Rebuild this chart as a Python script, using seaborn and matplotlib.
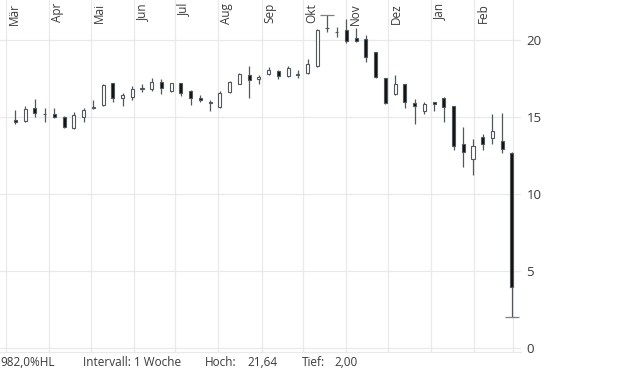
import numpy as np
import pandas as pd
import seaborn as sns
import matplotlib.pyplot as plt
import matplotlib.dates as mdates
import matplotlib.transforms as mtransforms

# weekly candles, Mar 2021 - Feb 2022
dates = pd.date_range("2021-03-08", periods=52, freq="7D")
opens = [14.80, 14.77, 15.58, 15.22, 15.19, 14.98, 14.27, 15.02, 15.60, 15.75,
         17.19, 16.25, 16.32, 16.85, 16.82, 17.27, 16.71, 17.19, 16.67, 16.25,
         15.95, 15.67, 16.64, 17.16, 17.73, 17.50, 17.77, 17.99, 17.66, 17.75,
         17.88, 18.33, 20.80, 20.55, 20.65, 20.10, 20.04, 19.22, 17.53, 16.51,
         17.12, 15.91, 15.41, 15.97, 16.21, 15.69, 13.25, 12.29, 13.68, 13.66,
         13.44, 12.68]
highs = [15.47, 15.71, 16.17, 15.56, 15.58, 15.05, 15.30, 15.58, 16.10, 17.14,
         17.21, 16.56, 17.01, 17.14, 17.53, 17.47, 17.23, 17.21, 16.73, 16.45,
         16.08, 16.67, 17.34, 17.86, 18.31, 17.73, 18.25, 18.05, 18.31, 18.05,
         18.77, 20.71, 21.64, 20.86, 21.36, 20.80, 20.32, 19.24, 17.55, 17.73,
         17.16, 16.17, 15.97, 15.99, 16.28, 15.71, 14.35, 13.57, 13.90, 15.19,
         15.26, 12.70]
lows = [14.53, 14.69, 15.00, 14.69, 14.95, 14.27, 14.22, 14.69, 15.50, 15.72,
        15.95, 15.73, 16.12, 16.64, 16.71, 16.51, 16.64, 16.38, 15.80, 15.97,
        15.37, 15.56, 16.58, 17.12, 16.25, 17.12, 17.75, 17.45, 17.58, 17.51,
        17.79, 18.27, 20.55, 20.21, 19.79, 19.89, 18.59, 17.55, 15.86, 16.43,
        15.56, 14.56, 15.21, 15.41, 14.69, 12.86, 11.77, 11.23, 12.86, 13.25,
        12.68, 2.00]
closes = [14.70, 15.54, 15.28, 15.20, 15.02, 14.33, 15.11, 15.45, 15.63, 17.10,
          16.21, 16.45, 16.82, 16.88, 17.29, 16.90, 17.19, 16.58, 16.25, 16.08,
          15.90, 16.58, 17.25, 17.81, 17.38, 17.60, 18.03, 17.66, 18.16, 17.80,
          18.42, 20.65, 20.76, 20.53, 19.94, 19.96, 18.88, 17.60, 15.90, 17.12,
          15.99, 15.69, 15.82, 15.86, 15.63, 13.14, 12.75, 13.12, 13.25, 14.09,
          12.90, 3.94]

month_starts = pd.date_range("2021-03-01", periods=13, freq="MS")
month_labels = ["Mär", "Apr", "Mai", "Jun", "Jul", "Aug", "Sep", "Okt", "Nov",
                "Dez", "Jan", "Feb"]
y_ticks = [0, 5, 10, 15, 20]
perf_text = "982,0%HL"
interval_text = "Intervall: 1 Woche"

df = pd.DataFrame({"date": dates, "open": opens, "high": highs,
                   "low": lows, "close": closes})
df["x"] = mdates.date2num(df["date"])
df["up"] = df["close"] >= df["open"]
df["bottom"] = df[["open", "close"]].min(axis=1)
df["height"] = (df["close"] - df["open"]).abs()

sns.set_theme(style="white")
plt.rcParams["font.family"] = ["Open Sans", "DejaVu Sans"]

W, H = 620, 372
fig = plt.figure(figsize=(W / 100, H / 100), dpi=100)
ax = fig.add_axes([0, 20 / H, 521 / W, 352 / H])

grid_c = "#e9e9e9"
edge_c = "#50585d"
text_c = "#3a3a3a"

# grid
for d in month_starts:
    ax.axvline(mdates.date2num(d), color=grid_c, lw=0.9, zorder=0)
for v in y_ticks:
    ax.axhline(v, color=grid_c, lw=0.9, zorder=0)

# wicks
ax.vlines(df["x"], df["low"], df["high"], color=edge_c, lw=0.9, zorder=2)
# bodies
ax.bar(df["x"], df["height"], bottom=df["bottom"], width=2.2,
       color=np.where(df["up"], "white", "#111111"), edgecolor=edge_c,
       linewidth=0.8, zorder=3)

# high / low markers
hi = df.loc[df["high"].idxmax()]
lo = df.loc[df["low"].idxmin()]
sns.scatterplot(x=[hi["x"], lo["x"]], y=[hi["high"], lo["low"]], marker="_",
                s=110, color="#7a8186", linewidth=0.9, ax=ax, zorder=4,
                legend=False)

x0 = mdates.date2num(pd.Timestamp("2021-03-01"))
ax.set_xlim(x0 - 4.1, x0 + 370.5)
ax.set_ylim(-0.26, 22.6)

ax.set_yticks(y_ticks)
ax.yaxis.tick_right()
ax.tick_params(axis="y", length=0, pad=4, labelsize=9.5, labelcolor=text_c)
ax.set_xticks([])
ax.set_xlabel("")
ax.set_ylabel("")
for s in ["top", "left", "right"]:
    ax.spines[s].set_visible(False)
ax.spines["bottom"].set_color(grid_c)
ax.spines["bottom"].set_linewidth(0.9)

# month labels at the top
trans = mtransforms.blended_transform_factory(ax.transData, ax.transAxes)
off = mtransforms.ScaledTranslation(2 / 100, -3 / 100, fig.dpi_scale_trans)
for d, lab in zip(month_starts, month_labels):
    ax.text(mdates.date2num(d), 1.0, lab, rotation=90, ha="left", va="top",
            fontsize=8.5, color=text_c, transform=trans + off)

# footer
fy = (H - 362) / H
fig.text(0 / W, fy, perf_text, fontsize=8.5, color=text_c, va="center")
fig.text(83 / W, fy, interval_text, fontsize=8.5, color=text_c, va="center")
fig.text(205 / W, fy, "Hoch:", fontsize=8.5, color=text_c, va="center")
fig.text(247 / W, fy, f"{hi['high']:.2f}".replace(".", ","), fontsize=8.5,
         color=text_c, va="center")
fig.text(302 / W, fy, "Tief:", fontsize=8.5, color=text_c, va="center")
fig.text(334 / W, fy, f"{lo['low']:.2f}".replace(".", ","), fontsize=8.5,
         color=text_c, va="center")

fig.savefig("out.png", dpi=100)
